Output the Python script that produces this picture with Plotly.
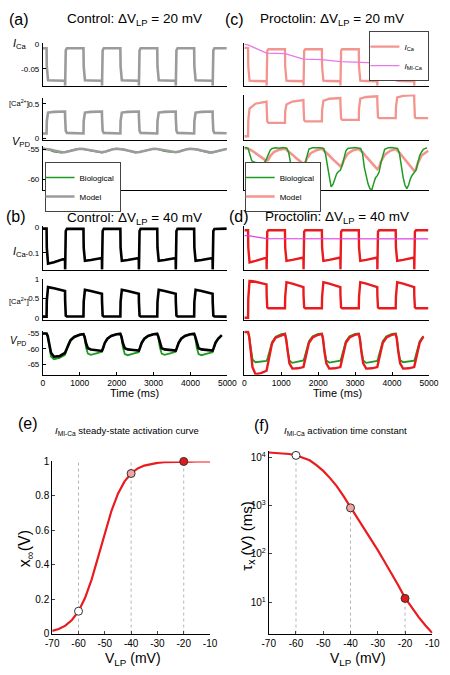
import plotly.graph_objects as go

W, H = 450, 675
FONT = "Liberation Sans, Arial, Helvetica, sans-serif"

# ---------------------------------------------------------------- data
# time knots (ms) for the square-wave like current / calcium traces
T_SQ = [0,
        100, 106, 118, 140, 300, 600, 603, 607, 620, 650,
        1100, 1106, 1118, 1140, 1300, 1600, 1603, 1607, 1620, 1650,
        2100, 2106, 2118, 2140, 2300, 2600, 2603, 2607, 2620, 2650,
        3100, 3106, 3118, 3140, 3300, 3600, 3603, 3607, 3620, 3650,
        4100, 4106, 4118, 4140, 4300, 4600, 4603, 4607, 4620, 4650,
        4980]

A1_ICA = [-0.008,
          -0.008, -0.045, -0.068, -0.073, -0.0735, -0.074, -0.084, -0.035, -0.012, -0.008,
          -0.008, -0.045, -0.068, -0.073, -0.0735, -0.074, -0.084, -0.035, -0.012, -0.008,
          -0.008, -0.045, -0.068, -0.073, -0.0735, -0.074, -0.084, -0.035, -0.012, -0.008,
          -0.008, -0.045, -0.068, -0.073, -0.0735, -0.074, -0.084, -0.035, -0.012, -0.008,
          -0.008, -0.045, -0.068, -0.073, -0.0735, -0.074, -0.084, -0.035, -0.012, -0.008,
          -0.008]
A2_CA = [0.07,
         0.07, 0.25, 0.34, 0.375, 0.385, 0.39, 0.30, 0.20, 0.11, 0.08,
         0.072, 0.25, 0.34, 0.375, 0.385, 0.39, 0.30, 0.20, 0.11, 0.08,
         0.072, 0.25, 0.34, 0.375, 0.385, 0.39, 0.30, 0.20, 0.11, 0.08,
         0.072, 0.25, 0.34, 0.375, 0.385, 0.39, 0.30, 0.20, 0.11, 0.08,
         0.072, 0.25, 0.34, 0.375, 0.385, 0.39, 0.30, 0.20, 0.11, 0.08,
         0.075]
B1_ICA = [-0.006,
          -0.006, -0.08, -0.13, -0.142, -0.136, -0.122, -0.165, -0.07, -0.015, -0.007,
          -0.007, -0.08, -0.122, -0.131, -0.128, -0.120, -0.165, -0.07, -0.015, -0.007,
          -0.007, -0.08, -0.122, -0.131, -0.128, -0.120, -0.165, -0.07, -0.015, -0.007,
          -0.007, -0.08, -0.122, -0.131, -0.128, -0.120, -0.165, -0.07, -0.015, -0.007,
          -0.007, -0.08, -0.122, -0.131, -0.128, -0.120, -0.165, -0.07, -0.015, -0.007,
          -0.006]
B2_CA = [0.03,
         0.03, 0.45, 0.74, 0.80, 0.77, 0.70, 0.45, 0.20, 0.06, 0.035,
         0.035, 0.42, 0.68, 0.73, 0.70, 0.63, 0.42, 0.20, 0.06, 0.035,
         0.035, 0.42, 0.68, 0.73, 0.70, 0.63, 0.42, 0.20, 0.06, 0.035,
         0.035, 0.42, 0.68, 0.73, 0.70, 0.63, 0.42, 0.20, 0.06, 0.035,
         0.035, 0.42, 0.68, 0.73, 0.70, 0.63, 0.42, 0.20, 0.06, 0.035,
         0.03]
C1_ICA = [-0.007,
          -0.007, -0.045, -0.069, -0.074, -0.0745, -0.075, -0.084, -0.035, -0.013, -0.010,
          -0.010, -0.045, -0.069, -0.074, -0.0745, -0.075, -0.084, -0.035, -0.013, -0.010,
          -0.010, -0.045, -0.069, -0.074, -0.0745, -0.075, -0.084, -0.035, -0.013, -0.010,
          -0.010, -0.045, -0.069, -0.074, -0.0745, -0.075, -0.084, -0.035, -0.013, -0.010,
          -0.010, -0.045, -0.069, -0.074, -0.0745, -0.075, -0.084, -0.035, -0.013, -0.010,
          -0.010]
C2_CA = [0.03,
         0.03, 0.25, 0.38, 0.42, 0.49, 0.52, 0.45, 0.33, 0.24, 0.22,
         0.22, 0.38, 0.46, 0.48, 0.52, 0.54, 0.45, 0.33, 0.26, 0.24,
         0.24, 0.40, 0.50, 0.53, 0.56, 0.57, 0.48, 0.35, 0.28, 0.26,
         0.26, 0.42, 0.52, 0.56, 0.585, 0.595, 0.50, 0.37, 0.30, 0.285,
         0.285, 0.44, 0.55, 0.58, 0.60, 0.61, 0.52, 0.38, 0.30, 0.285,
         0.285]
D1_ICA = [-0.012,
          -0.012, -0.08, -0.128, -0.137, -0.131, -0.118, -0.165, -0.07, -0.018, -0.012,
          -0.012, -0.08, -0.122, -0.131, -0.127, -0.118, -0.165, -0.07, -0.018, -0.012,
          -0.012, -0.08, -0.122, -0.131, -0.127, -0.118, -0.165, -0.07, -0.018, -0.012,
          -0.012, -0.08, -0.122, -0.131, -0.127, -0.118, -0.165, -0.07, -0.018, -0.012,
          -0.012, -0.08, -0.122, -0.131, -0.127, -0.118, -0.165, -0.07, -0.018, -0.012,
          -0.012]
D2_CA = [0.0,
         0.0, 0.50, 0.85, 0.97, 0.94, 0.87, 0.60, 0.38, 0.27, 0.25,
         0.25, 0.55, 0.85, 0.93, 0.89, 0.80, 0.58, 0.37, 0.27, 0.25,
         0.25, 0.55, 0.85, 0.93, 0.89, 0.80, 0.58, 0.37, 0.27, 0.25,
         0.25, 0.55, 0.85, 0.93, 0.89, 0.80, 0.58, 0.37, 0.27, 0.25,
         0.25, 0.55, 0.85, 0.93, 0.89, 0.80, 0.58, 0.37, 0.27, 0.25,
         0.25]

# I_MI-Ca traces
T_MI = [0, 100, 600, 1100, 1600, 2100, 2600, 3100, 3600, 4100, 4600, 4980]
C1_IMI = [0.0, -0.001, -0.018, -0.019, -0.030, -0.031, -0.035, -0.036, -0.038, -0.039, -0.041, -0.042]
D1_IMI = [-0.033, -0.033, -0.045, -0.045, -0.046, -0.046, -0.046, -0.046, -0.047, -0.046, -0.046, -0.046]

# V_PD, panel (a)
T_A3 = [0, 100, 200, 300, 400, 500, 600, 700, 800, 900,
        1000, 1100, 1200, 1300, 1400, 1500, 1600, 1700, 1800, 1900,
        2000, 2100, 2200, 2300, 2400, 2500, 2600, 2700, 2800, 2900,
        3000, 3100, 3200, 3300, 3400, 3500, 3600, 3700, 3800, 3900,
        4000, 4100, 4200, 4300, 4400, 4500, 4600, 4700, 4800, 4900,
        4980]
A3_MODEL = [-54.85, -54.88, -55.0, -55.15, -55.3, -55.42, -55.45, -55.3, -55.1, -54.95,
            -54.85, -54.88, -55.0, -55.15, -55.3, -55.42, -55.45, -55.3, -55.1, -54.95,
            -54.85, -54.88, -55.0, -55.15, -55.3, -55.42, -55.45, -55.3, -55.1, -54.95,
            -54.85, -54.88, -55.0, -55.15, -55.3, -55.42, -55.45, -55.3, -55.1, -54.95,
            -54.85, -54.88, -55.0, -55.15, -55.3, -55.42, -55.45, -55.3, -55.1, -54.95,
            -54.9]
A3_BIO = [-54.8, -54.85, -55.1, -55.35, -55.45, -55.5, -55.4, -55.2, -55.0, -54.9,
          -54.85, -54.9, -55.05, -55.2, -55.3, -55.45, -55.5, -55.35, -55.1, -54.9,
          -54.8, -54.85, -55.0, -55.15, -55.35, -55.5, -55.4, -55.25, -55.05, -54.9,
          -54.85, -54.9, -55.1, -55.25, -55.35, -55.45, -55.45, -55.3, -55.05, -54.95,
          -54.85, -54.85, -55.05, -55.2, -55.35, -55.5, -55.5, -55.3, -55.1, -54.9,
          -54.85]

# V_PD, panels (b) and (d)
T_B3 = [0,
        100, 130, 170, 220, 300, 450, 600, 630, 680, 750, 850, 1000,
        1100, 1130, 1170, 1220, 1300, 1450, 1600, 1630, 1680, 1750, 1850, 2000,
        2100, 2130, 2170, 2220, 2300, 2450, 2600, 2630, 2680, 2750, 2850, 3000,
        3100, 3130, 3170, 3220, 3300, 3450, 3600, 3630, 3680, 3750, 3850, 4000,
        4100, 4130, 4170, 4220, 4300, 4450, 4600, 4630, 4680, 4750, 4850, 4980]
B3_MODEL = [-55.0,
            -55.0, -55.8, -58.5, -61.3, -62.6, -62.4, -61.3, -60.4, -58.7, -57.2, -56.1, -55.4,
            -55.2, -56.0, -58.2, -59.8, -60.2, -60.5, -60.7, -59.8, -58.0, -56.7, -55.8, -55.2,
            -55.1, -56.0, -58.2, -59.8, -60.2, -60.4, -60.6, -59.7, -58.0, -56.7, -55.8, -55.2,
            -55.1, -56.0, -58.2, -59.8, -60.2, -60.4, -60.6, -59.7, -58.0, -56.7, -55.8, -55.2,
            -55.1, -56.0, -58.2, -59.8, -60.2, -60.4, -60.6, -59.7, -58.0, -56.7, -55.5]
B3_BIO = [-55.0,
          -55.0, -56.0, -59.5, -62.5, -63.4, -63.0, -62.0, -60.8, -58.6, -57.0, -56.0, -55.3,
          -55.1, -56.4, -59.6, -61.6, -62.0, -61.5, -61.0, -60.0, -58.0, -56.6, -55.7, -55.1,
          -55.0, -56.4, -59.6, -61.7, -62.1, -61.6, -61.1, -60.0, -58.0, -56.6, -55.7, -55.1,
          -55.0, -56.4, -59.5, -61.6, -62.0, -61.5, -61.0, -60.0, -58.0, -56.6, -55.7, -55.1,
          -55.0, -56.4, -59.6, -61.7, -62.1, -61.6, -61.1, -60.0, -58.0, -56.6, -55.6]
D3_MODEL = [-54.5,
            -54.5, -56.0, -61.0, -66.0, -68.3, -68.0, -67.2, -65.5, -61.5, -58.2, -56.3, -55.5,
            -55.2, -56.8, -61.0, -64.8, -66.5, -66.4, -66.0, -64.5, -61.0, -58.0, -56.3, -55.4,
            -55.2, -56.8, -61.0, -64.8, -66.5, -66.4, -66.0, -64.5, -61.0, -58.0, -56.3, -55.4,
            -55.2, -56.8, -61.0, -64.8, -66.5, -66.4, -66.0, -64.5, -61.0, -58.0, -56.3, -55.4,
            -55.2, -56.8, -61.0, -64.8, -66.5, -66.4, -66.0, -64.5, -61.0, -58.0, -56.0]
D3_BIO = [-54.5,
          -54.5, -56.0, -60.0, -63.5, -64.4, -64.3, -64.0, -63.0, -60.5, -57.8, -56.0, -55.2,
          -55.0, -56.5, -60.5, -63.8, -64.6, -64.3, -63.8, -62.8, -60.2, -57.5, -55.9, -55.1,
          -55.0, -56.5, -60.5, -63.8, -64.5, -64.2, -63.9, -62.8, -60.2, -57.5, -55.9, -55.1,
          -55.0, -56.5, -60.5, -63.8, -64.6, -64.3, -64.0, -62.8, -60.2, -57.5, -55.9, -55.1,
          -55.0, -56.5, -60.5, -63.7, -64.4, -64.2, -63.9, -62.8, -60.2, -57.5, -55.8]

# V_PD, panel (c)
T_C3 = [0,
        100, 200, 300, 400, 500, 600, 650, 700, 800, 950,
        1100, 1200, 1300, 1400, 1500, 1600, 1650, 1700, 1800, 1950,
        2100, 2200, 2300, 2400, 2500, 2600, 2650, 2700, 2800, 2950,
        3100, 3200, 3300, 3400, 3500, 3600, 3650, 3700, 3800, 3950,
        4100, 4200, 4300, 4400, 4500, 4600, 4650, 4700, 4800, 4980]
C3_MODEL = [-54.8,
            -54.8, -55.15, -55.55, -55.95, -56.4, -56.9, -56.7, -56.1, -55.4, -55.0,
            -54.85, -55.3, -55.85, -56.4, -56.95, -57.45, -57.2, -56.4, -55.6, -55.1,
            -54.85, -55.35, -56.0, -56.65, -57.25, -57.8, -57.5, -56.7, -55.7, -55.1,
            -54.9, -55.45, -56.2, -56.95, -57.65, -58.3, -58.0, -57.0, -55.9, -55.2,
            -54.9, -55.5, -56.3, -57.1, -57.85, -58.6, -58.3, -57.3, -56.0, -55.2]
C3_BIO = [(0, -54.7), (50, -54.65), (100, -54.8), (150, -56.0), (200, -56.9), (300, -57.2),
          (400, -57.3), (500, -57.35), (550, -57.1), (600, -56.6), (650, -55.8), (700, -55.1),
          (750, -54.8), (850, -54.7), (950, -54.75), (1050, -54.65), (1150, -54.75),
          (1200, -55.5), (1250, -57.2), (1300, -58.6), (1350, -59.6), (1400, -59.8), (1450, -59.2),
          (1500, -58.6), (1550, -58.3), (1600, -58.0), (1650, -57.2), (1700, -55.8), (1750, -54.9),
          (1850, -54.7), (1950, -54.65), (2050, -54.7), (2150, -54.8),
          (2200, -55.8), (2250, -57.7), (2300, -59.4), (2350, -61.3), (2400, -60.9), (2450, -59.9),
          (2500, -59.1), (2550, -58.7), (2600, -58.5), (2650, -57.7), (2700, -56.3), (2750, -55.2),
          (2800, -54.8), (2900, -54.7), (3000, -54.65), (3100, -54.75), (3150, -54.8),
          (3200, -55.6), (3250, -58.0), (3300, -59.4), (3350, -60.8), (3400, -61.6), (3450, -61.9),
          (3500, -60.8), (3550, -59.8), (3600, -59.4), (3650, -58.8), (3700, -57.2), (3750, -55.8),
          (3800, -54.95), (3900, -54.7), (4000, -54.65), (4100, -54.75), (4150, -54.8),
          (4200, -55.6), (4250, -58.0), (4300, -59.7), (4350, -61.0), (4400, -61.6), (4450, -61.0),
          (4500, -59.9), (4550, -59.3), (4600, -58.9), (4650, -58.5), (4700, -57.2), (4750, -56.0),
          (4800, -55.4), (4850, -54.95), (4900, -54.8), (4950, -54.7)]

TIME_TICKS = [0, 1000, 2000, 3000, 4000, 5000]

# panel (e): steady-state activation
E_V = [-70, -67.5, -65, -62.5, -60, -57.5, -55, -52.5, -50, -47.5, -45, -42.5, -40,
       -37.5, -35, -32.5, -30, -27.5, -25, -22.5, -20, -17.5, -15, -12.5, -10]
E_XINF = [0.016, 0.027, 0.046, 0.079, 0.130, 0.208, 0.315, 0.446, 0.586, 0.712, 0.813, 0.884, 0.930,
          0.959, 0.976, 0.986, 0.992, 0.9955, 0.9974, 0.9985, 0.9992, 0.9995, 0.9997, 0.9998, 0.9999]
# panel (f): activation time constant (ms)
F_TAU = [12600, 12450, 12160, 11750, 11090, 10000, 8710, 6920, 5250, 3720, 2510, 1550, 933,
         562, 339, 204, 120, 69, 39.8, 22.4, 12.3, 7.6, 4.9, 3.3, 2.3]
PT_V = [-60, -40, -20]
PT_XINF = [0.13, 0.93, 1.0]
PT_TAU = [11000, 900, 12]
PT_FILL = ["white", "#f2a3a3", "#e01a1a"]
V_TICKS = [-70, -60, -50, -40, -30, -20, -10]

# ---------------------------------------------------------------- layout helpers
def X(p):
    return p / W


def Y(p):
    return 1 - p / H


LEFT = (37.3, 229.0)
RIGHT = (246.7, 438.5)
YE_TOP, YE_BOT = 464, 639
E_RANGE = [0, 1.0]
F_RANGE = [0.35, 4.14]

AXES = [
    (1, LEFT, (39, 82), [-0.084, 0.002], [-0.05, 0], ["-0.05", "0"], False),
    (2, LEFT, (95, 137), [-0.02, 0.58], [0, 0.5], ["0", "0.5"], False),
    (3, LEFT, (143, 188), [-61.83, -54.33], [-60, -55], ["-60", "-55"], False),
    (4, LEFT, (225, 269), [-0.165, 0.003], [-0.1, 0], ["-0.1", "0"], False),
    (5, LEFT, (279, 320), [-0.051, 1.0], [0, 0.5, 1], ["0", "0.5", "1"], False),
    (6, LEFT, (331, 376), [-68.55, -54.03], [-65, -60, -55], ["-65", "-60", "-55"], True),
    (7, RIGHT, (39, 82), [-0.084, 0.002], None, None, False),
    (8, RIGHT, (91, 137), [-0.02, 0.62], None, None, False),
    (9, RIGHT, (143, 188), [-61.83, -54.33], None, None, False),
    (10, RIGHT, (225, 269), [-0.165, 0.003], None, None, False),
    (11, RIGHT, (279, 320), [-0.051, 1.0], None, None, False),
    (12, RIGHT, (331, 376), [-68.55, -54.03], None, None, True),
]

TICKFONT = dict(size=8, family=FONT, color="black")
layout_axes = {}
for i, xd, yd, yr, tv, tt, xt in AXES:
    s = "" if i == 1 else str(i)
    layout_axes["xaxis" + s] = dict(
        domain=[X(xd[0]), X(xd[1])], range=[0, 5000], anchor="y" + s,
        showline=True, linecolor="black", linewidth=1, showgrid=False, zeroline=False,
        ticks="inside" if xt else "", ticklen=3, tickcolor="black",
        showticklabels=xt, tickvals=TIME_TICKS if xt else None,
        ticktext=[str(v) for v in TIME_TICKS] if xt else None,
        tickfont=dict(TICKFONT, size=8.5), fixedrange=True)
    layout_axes["yaxis" + s] = dict(
        domain=[Y(yd[1]), Y(yd[0])], range=yr, anchor="x" + s,
        showline=True, linecolor="black", linewidth=1, showgrid=False, zeroline=False,
        ticks="inside" if tv else "", ticklen=3, tickcolor="black",
        showticklabels=bool(tv), tickvals=tv, ticktext=tt, tickfont=TICKFONT,
        ticklabelstandoff=1, fixedrange=True)

EFONT = dict(size=10, family=FONT, color="black")
V_TEXT = [str(v) for v in V_TICKS]
layout_axes["xaxis13"] = dict(domain=[X(47), X(211)], range=[-70, -10], anchor="y13",
                              showline=True, linecolor="black", showgrid=False, zeroline=False,
                              ticks="inside", ticklen=3, tickvals=V_TICKS, ticktext=V_TEXT,
                              tickfont=EFONT)
layout_axes["yaxis13"] = dict(domain=[Y(YE_BOT), Y(YE_TOP)], range=E_RANGE, anchor="x13",
                              showline=True, linecolor="black", showgrid=False, zeroline=False,
                              ticks="inside", ticklen=3, tickvals=[0, 0.2, 0.4, 0.6, 0.8, 1],
                              ticktext=["0", "0.2", "0.4", "0.6", "0.8", "1"], tickfont=EFONT)
layout_axes["xaxis14"] = dict(domain=[X(272), X(442)], range=[-70, -10], anchor="y14",
                              showline=True, linecolor="black", showgrid=False, zeroline=False,
                              ticks="inside", ticklen=3, tickvals=V_TICKS, ticktext=V_TEXT,
                              tickfont=EFONT)
layout_axes["yaxis14"] = dict(domain=[Y(639), Y(453)], type="log", range=F_RANGE, anchor="x14",
                              showline=True, linecolor="black", showgrid=False, zeroline=False,
                              ticks="inside", ticklen=3, tickvals=[10, 100, 1000, 10000],
                              ticktext=["10<sup>1</sup>", "10<sup>2</sup>", "10<sup>3</sup>", "10<sup>4</sup>"],
                              tickfont=EFONT)

fig = go.Figure()


def add(i, x, y, color, width, name=None, legend=None):
    s = "" if i == 1 else str(i)
    fig.add_trace(go.Scatter(
        x=x, y=y, mode="lines", line=dict(color=color, width=width),
        xaxis="x" + s, yaxis="y" + s, name=name or "",
        showlegend=legend is not None, legend=legend or "legend", hoverinfo="skip"))


GRAY = "#9b9b9b"
GREEN = "#1f9a22"
SALMON = "#f4948f"
RED = "#ea1b1e"
MAG_C = "#e77ae7"
MAG_D = "#e03ee0"

# panel (a)
add(1, T_SQ, A1_ICA, GRAY, 2.6)
add(2, T_SQ, A2_CA, GRAY, 2.6)
add(3, T_A3, A3_BIO, GREEN, 1.6, "Biological", "legend")
add(3, T_A3, A3_MODEL, GRAY, 2.6, "Model", "legend")
# panel (b)
add(4, T_SQ, B1_ICA, "black", 2.6)
add(5, T_SQ, B2_CA, "black", 2.6)
add(6, T_B3, B3_BIO, GREEN, 1.8)
add(6, T_B3, B3_MODEL, "black", 2.6)
# panel (c)
add(7, T_SQ, C1_ICA, SALMON, 2.3, "<i>I</i><sub>Ca</sub>", "legend2")
add(7, T_MI, C1_IMI, MAG_C, 1.3, "<i>I</i><sub>MI-Ca</sub>", "legend2")
add(8, T_SQ, C2_CA, SALMON, 2.3)
add(9, T_C3, C3_MODEL, SALMON, 2.6, "Model", "legend3")
add(9, [p[0] for p in C3_BIO], [p[1] for p in C3_BIO], GREEN, 1.5, "Biological", "legend3")
# panel (d)
add(10, T_SQ, D1_ICA, RED, 2.4)
add(10, T_MI, D1_IMI, MAG_D, 1.3)
add(11, T_SQ, D2_CA, RED, 2.4)
add(12, T_B3, D3_BIO, GREEN, 1.8)
add(12, T_B3, D3_MODEL, RED, 2.4)

# panel (e)
for v in PT_V:
    fig.add_trace(go.Scatter(x=[v, v], y=E_RANGE, mode="lines", xaxis="x13", yaxis="y13",
                             line=dict(color="#b5b5b5", width=1, dash="dot"),
                             showlegend=False, hoverinfo="skip"))
fig.add_trace(go.Scatter(x=E_V, y=E_XINF, mode="lines", xaxis="x13", yaxis="y13",
                         line=dict(color=RED, width=2.2), showlegend=False, hoverinfo="skip"))
fig.add_trace(go.Scatter(x=PT_V, y=PT_XINF, mode="markers", xaxis="x13", yaxis="y13",
                         marker=dict(size=8, color=PT_FILL, line=dict(color="#333", width=1)),
                         cliponaxis=False, showlegend=False, hoverinfo="skip"))
# panel (f)
for v, t in zip(PT_V, PT_TAU):
    fig.add_trace(go.Scatter(x=[v, v], y=[10 ** F_RANGE[0], t], mode="lines", xaxis="x14", yaxis="y14",
                             line=dict(color="#b5b5b5", width=1, dash="dot"),
                             showlegend=False, hoverinfo="skip"))
fig.add_trace(go.Scatter(x=E_V, y=F_TAU, mode="lines", xaxis="x14", yaxis="y14",
                         line=dict(color=RED, width=2.2), showlegend=False, hoverinfo="skip"))
fig.add_trace(go.Scatter(x=PT_V, y=PT_TAU, mode="markers", xaxis="x14", yaxis="y14",
                         marker=dict(size=8, color=PT_FILL, line=dict(color="#333", width=1)),
                         cliponaxis=False, showlegend=False, hoverinfo="skip"))

# ---------------------------------------------------------------- annotations
ANN = []


def ann(text, xp, yp, size, xanchor="center", angle=0):
    ANN.append(dict(text=text, x=X(xp), y=Y(yp), xref="paper", yref="paper",
                    xanchor=xanchor, yanchor="middle", showarrow=False, textangle=angle,
                    font=dict(size=size, family=FONT, color="black")))


ann("(a)", 12, 15, 16)
ann("Control: ΔV<sub>LP</sub> = 20 mV", 133, 15, 13.5)
ann("(c)", 236, 15, 16)
ann("Proctolin: ΔV<sub>LP</sub> = 20 mV", 338, 15, 13.5)
ann("(b)", 9, 215, 16)
ann("Control: ΔV<sub>LP</sub> = 40 mV", 133, 217, 13.5)
ann("(d)", 241, 215, 16)
ann("Proctolin: ΔV<sub>LP</sub> = 40 mV", 343, 216, 13.5)
ann("(e)", 22, 425, 16)
ann("(f)", 265, 427, 16)
ann("<i>I</i><sub>MI-Ca</sub> steady-state activation curve", 125, 433, 9.5)
ann("<i>I</i><sub>MI-Ca</sub> activation time constant", 352, 433, 9.5)

ann("<i>I</i><sub>Ca</sub>", 4, 40, 11, xanchor="left")
ann("[Ca<sup>2+</sup>]", 0, 100, 7.5, xanchor="left")
ann("<i>V</i><sub>PD</sub>", 3, 139, 11, xanchor="left")
ann("<i>I</i><sub>Ca</sub>", 4, 251, 11, xanchor="left")
ann("[Ca<sup>2+</sup>]", 0, 301, 7.5, xanchor="left")
ann("<i>V</i><sub>PD</sub>", 1, 342, 10, xanchor="left")

ann("Time (ms)", 133, 394, 11)
ann("Time (ms)", 343, 394, 11)
ann("V<sub>LP</sub> (mV)", 131, 665, 14)
ann("V<sub>LP</sub> (mV)", 365, 665, 14)
ann("x<sub>∞</sub>(V)", 20, 553, 16, angle=-90)
ann("τ<sub>x</sub> (V) (ms)", 250, 540, 15, angle=-90)

LEG = dict(bgcolor="white", bordercolor="#444", borderwidth=1,
           font=dict(size=8, family=FONT, color="black"),
           itemwidth=30, tracegroupgap=0, indentation=-6)

fig.update_layout(
    width=W, height=H, autosize=False,
    margin=dict(l=0, r=0, t=0, b=0),
    paper_bgcolor="white", plot_bgcolor="white",
    font=dict(family=FONT, color="black"),
    annotations=ANN,
    legend=dict(LEG, x=X(39), y=Y(185), xanchor="left", yanchor="middle"),
    legend2=dict(LEG, x=X(439), y=Y(52), xanchor="right", yanchor="middle"),
    legend3=dict(LEG, x=X(247), y=Y(185), xanchor="left", yanchor="middle",
                 traceorder="reversed"),
    **layout_axes,
)

fig.write_html("out.html", post_script="document.body.style.margin='0px';",
               config={"displayModeBar": False, "staticPlot": True})
